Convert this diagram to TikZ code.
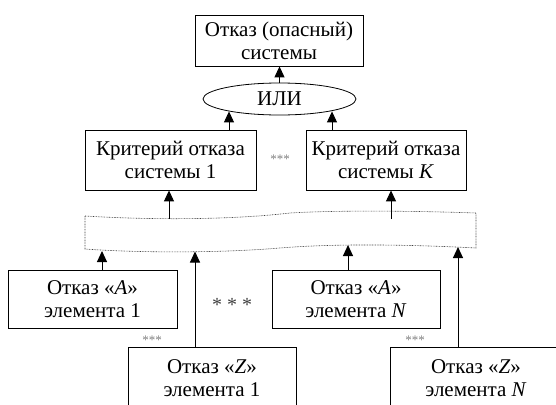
\documentclass[tikz,border=0pt]{standalone}
\usepackage{fontspec}
\setmainfont{Liberation Serif}
\usetikzlibrary{shapes.geometric,arrows.meta,positioning}

\begin{document}
\begin{tikzpicture}[x=1pt,y=-1pt,
	blok/.style={draw,line width=0.8pt,align=center,inner sep=0pt,font=\fontsize{21}{23}\selectfont},
	strl/.style={-{Triangle[width=10pt,length=11pt]},line width=1pt},
	zvezd/.style={text=gray,font=\fontsize{13}{13}\selectfont}]
		\useasboundingbox (0,0) rectangle (556,404);
		\clip (0,0) rectangle (556,404);
		% verkh
		\node[blok,minimum width=168pt,minimum height=51pt] (otkaz) at (279,40.5) {Отказ (опасный)\\системы};
		\node[blok,ellipse,minimum width=153pt,minimum height=32pt] (ili) at (279.5,99) {ИЛИ};
		\node[blok,minimum width=171pt,minimum height=60pt] (krit1) at (170.5,160) {Критерий отказа\\системы 1};
		\node[blok,minimum width=160pt,minimum height=60pt] (kritK) at (386,160) {Критерий отказа\\системы \textit{K}};
		\node[zvezd] (zv1) at (280,159) {***};
		% niz
		\node[blok,minimum width=169pt,minimum height=58pt] (otkA1) at (92.5,299) {Отказ «\textit{A}»\\элемента 1};
		\node[blok,minimum width=168pt,minimum height=58pt] (otkAN) at (356,299) {Отказ «\textit{A}»\\элемента \textit{N}};
		\node[blok,minimum width=168pt,minimum height=62pt] (otkZ1) at (212,378) {Отказ «\textit{Z}»\\элемента 1};
		\node[blok,minimum width=172pt,minimum height=62pt] (otkZN) at (476,378) {Отказ «\textit{Z}»\\элемента \textit{N}};
		\node[text=darkgray,font=\fontsize{20}{20}\selectfont] (zv2) at (232,305) {* * *};
		\node[zvezd] (zv3) at (152,340) {***};
		\node[zvezd] (zv4) at (415,340) {***};
		% polosa
		\draw[darkgray,line width=0.6pt,dash pattern=on 0.8pt off 0.8pt] (85,216) .. controls (150,220) and (230,220) .. (290,213)
			.. controls (340,210) and (420,211) .. (476,213) -- (476,248)
			.. controls (420,245) and (340,243) .. (280,248)
			.. controls (220,253) and (140,253) .. (85,249) -- cycle;
		\coordinate (bt1) at (169,219);
		\coordinate (btK) at (391,219);
		\coordinate (bb1) at (102,251);
		\coordinate (bb2) at (195,251.5);
		\coordinate (bb3) at (348,245);
		\coordinate (bb4) at (458,247);
		% strelki
		\draw[strl] (ili.north) -- (ili.north |- otkaz.south);
		\draw[strl] ([xshift=58.5pt]krit1.north) -- ([xshift=58.5pt,yshift=4pt]krit1.north |- ili.south);
		\draw[strl] ([xshift=-54pt]kritK.north) -- ([xshift=-54pt,yshift=4pt]kritK.north |- ili.south);
		\draw[strl] (bt1) -- (krit1.south -| bt1);
		\draw[strl] (btK) -- (kritK.south -| btK);
		\draw[strl] (otkA1.north -| bb1) -- (bb1);
		\draw[strl] (otkZ1.north -| bb2) -- (bb2);
		\draw[strl] (otkAN.north -| bb3) -- (bb3);
		\draw[strl] (otkZN.north -| bb4) -- (bb4);
\end{tikzpicture}
\end{document}
